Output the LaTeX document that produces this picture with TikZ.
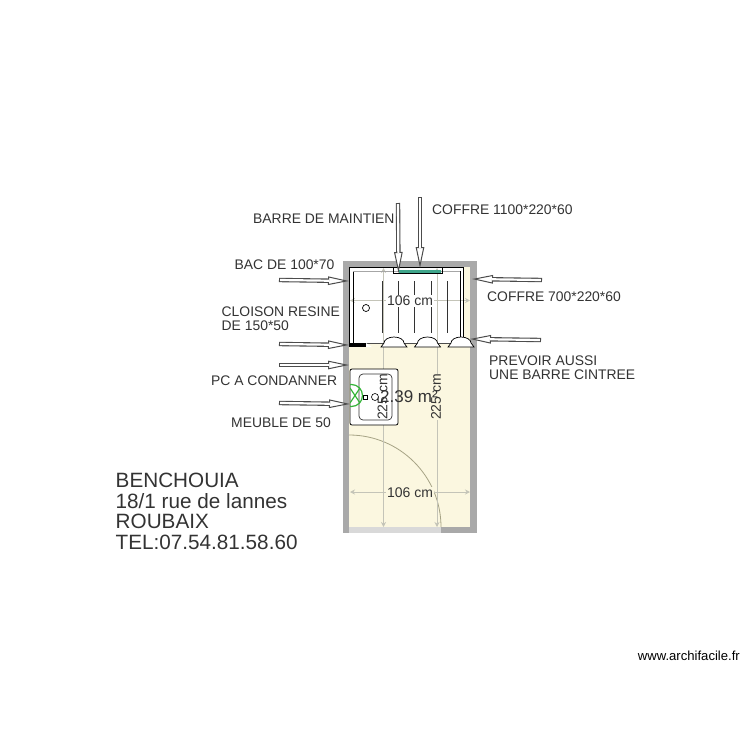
\documentclass[tikz,border=0pt]{standalone}
\usepackage{fontspec}
\setmainfont{Liberation Sans}
\usetikzlibrary{arrows.meta}
\definecolor{wallgray}{HTML}{A9A9A9}
\definecolor{roomcream}{HTML}{FBF7E0}
\definecolor{dimgray}{HTML}{C4C4B8}
\definecolor{barteal}{HTML}{3FA58A}
\definecolor{pcgreen}{HTML}{35B53A}
\definecolor{labelgray}{HTML}{333333}
\tikzset{
    lbl/.style={font=\fontsize{13.9}{14.5}\selectfont,text=labelgray,inner sep=0pt,anchor=west,align=left},
    bigl/.style={font=\fontsize{20.7}{22}\selectfont,text=labelgray,inner sep=0pt,anchor=west},
    dimtxt/.style={font=\fontsize{14}{15}\selectfont,text=labelgray,inner sep=1pt},
    dimline/.style={dimgray,line width=0.8pt,{Stealth[length=5pt,width=5pt]}-{Stealth[length=5pt,width=5pt]}},
    hollow/.style={draw=black!70,line width=4.4pt,
        -{Triangle[open,fill=white,length=21pt,width=8.5pt,line width=1pt]},
        postaction={draw=white,line width=2.2pt,shorten >=20pt,shorten <=1.1pt,-}},
}
\begin{document}
\begin{tikzpicture}[x=1pt,y=-1pt]
    \useasboundingbox (0,0) rectangle (750,750);

    % walls and floor
    \fill[wallgray] (343,261) rectangle (477,533);
    \fill[roomcream] (349,267) rectangle (470,527);
    \fill[white] (349,267) rectangle (463,343);
    \fill[gray!30] (349,527) rectangle (441,533);

    % door
    \draw[gray!80!yellow,line width=0.8pt] (349,435) arc (-90:0:92);

    % dimensions
    \coordinate (dimtopa) at (383.5,268);
    \coordinate (dimbota) at (383.5,527);
    \coordinate (dimtopb) at (437,268);
    \coordinate (dimbotb) at (437,527);
    \draw[dimline] (dimtopa)--(dimbota);
    \draw[dimline] (dimtopb)--(dimbotb);
    \coordinate (dimlefta) at (350,300.5);
    \coordinate (dimrighta) at (470,300.5);
    \coordinate (dimleftb) at (350,492);
    \coordinate (dimrightb) at (470,492);
    \draw[dimline] (dimlefta)--(dimrighta);
    \draw[dimline] (dimleftb)--(dimrightb);

    % shower
    \draw[black,line width=0.9pt] (349,345)--(349,267)--(463,267)--(463,337);
    \draw[black,line width=0.8pt] (353,343)--(353,271);
    \draw[black,line width=0.8pt] (460,271)--(460,337);
    \draw[gray!70,line width=1pt] (353,271)--(460,271);
    \foreach \x in {382,398,414,431,447}
        \draw[black!80,line width=0.7pt] (\x,281)--(\x,333);
    \draw[black,line width=0.7pt] (366,308) circle (3.5);
    \draw[black!70,line width=0.5pt] (349,343)--(463,343);
    \fill[white] (366,343)--(372,347)--(366,347)--cycle;
    \fill[black] (349,343) rectangle (366,347);
    \foreach \x in {394,427.5,461}
        \draw[black,line width=0.7pt,fill=white] (\x-13,347)--(\x-10,343) arc (180:360:10 and 6)--(\x+13,347)--cycle;
    \draw[black,line width=0.7pt] (393,267) rectangle (442,273);
    \fill[barteal] (399,269.5) rectangle (441,272.5);

    % sink
    \draw[black,line width=0.8pt,fill=white,rounded corners=2pt] (350,369) rectangle (398,425);
    \draw[black!80,line width=0.7pt,rounded corners=4pt] (359,374) rectangle (392,420);
    \draw[black,line width=0.6pt,fill=white] (363,395) rectangle (367,399);
    \draw[black,line width=0.6pt] (375,397) circle (3.5);
    \begin{scope}
        \clip (350,380) rectangle (370,410);
        \draw[pcgreen,line width=1.2pt] (351.5,395.5) circle (11);
        \draw[pcgreen,line width=1.2pt] (350,388)--(360,403) (350,403)--(360,388);
    \end{scope}

    % dimension texts
    \node[dimtxt,fill=white] (widtha) at (410,300.7) {106 cm};
    \node[dimtxt,fill=roomcream] (widthb) at (410,492.7) {106 cm};
    \node[dimtxt,rotate=90,inner sep=0pt] (heighta) at (382.5,397) {225 cm};
    \node[dimtxt,rotate=90,inner sep=0pt,fill=roomcream] (heightb) at (436,397) {225 cm};
    \node[font=\fontsize{17}{18}\selectfont,text=labelgray,inner sep=0pt] (area) at (409,396.5) {2.39 m²};

    % labels
    \node[lbl] (barre) at (253,218.7) {BARRE DE MAINTIEN};
    \node[lbl] (coffrea) at (432,209.7) {COFFRE 1100*220*60};
    \node[lbl] (bac) at (234.5,264.7) {BAC DE 100*70};
    \node[lbl] (coffreb) at (487,296.7) {COFFRE 700*220*60};
    \node[lbl] (cloison) at (221.5,318.7) {CLOISON RESINE\\DE 150*50};
    \node[lbl] (prevoir) at (489,367.7) {PREVOIR AUSSI\\UNE BARRE CINTREE};
    \node[lbl] (pc) at (211,380.7) {PC A CONDANNER};
    \node[lbl] (meuble) at (231,422.7) {MEUBLE DE 50};

    % arrows
    \coordinate (barrea) at (398,203);   \coordinate (barreb) at (398.5,273);
    \coordinate (coffreaa) at (420,197); \coordinate (coffreab) at (420,268);
    \coordinate (baca) at (279,280);     \coordinate (bacb) at (349,281);
    \coordinate (coffreba) at (542,280); \coordinate (coffrebb) at (472,279);
    \coordinate (cloisona) at (279,344); \coordinate (cloisonb) at (349,345);
    \coordinate (prevoira) at (541,340); \coordinate (prevoirb) at (470,339);
    \coordinate (pca) at (279,365);      \coordinate (pcb) at (349,365);
    \coordinate (meublea) at (279,403);  \coordinate (meubleb) at (350,404);
    \foreach \a/\b in {barrea/barreb,coffreaa/coffreab,baca/bacb,coffreba/coffrebb,
        cloisona/cloisonb,prevoira/prevoirb,pca/pcb,meublea/meubleb}
        \draw[hollow] (\a)--(\b);

    % client
    \node[bigl] (nom) at (115.5,480.5) {BENCHOUIA};
    \node[bigl] (rue) at (115.5,501.5) {18/1 rue de lannes};
    \node[bigl] (ville) at (115.5,521.5) {ROUBAIX};
    \node[bigl] (tel) at (115.5,542) {TEL:07.54.81.58.60};

    \node[font=\fontsize{13.1}{14}\selectfont,text=black,inner sep=0pt,anchor=east] (site) at (740,655.5) {www.archifacile.fr};
\end{tikzpicture}
\end{document}
